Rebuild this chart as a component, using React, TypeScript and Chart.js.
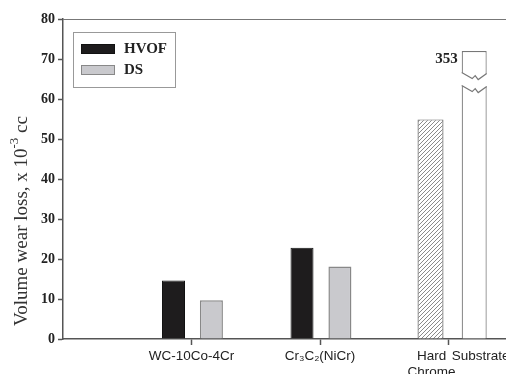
import React, { useEffect, useRef } from 'react';
import { Chart, registerables } from 'chart.js';

Chart.register(...registerables);

// ---- data ----
const categories = ['WC-10Co-4Cr', 'Cr\u2083C\u2082(NiCr)', 'Hard Chrome', 'Substrate'];
const seriesNames = ['HVOF', 'DS'];
const hvofValues = [14.6, 22.8];
const dsValues = [9.7, 18.1];
const hardChromeValue = 54.9;
const substrateActual = 353; // real value, shown with a broken bar
const substrateDrawn = 72; // height of the broken bar on the axis
const yTicks = [0, 10, 20, 30, 40, 50, 60, 70, 80];

// layout constants (category index positions on a linear axis)
const GROUP_OFFSET_LEFT = -0.14;
const GROUP_OFFSET_RIGHT = 0.155;

export default function App() {
  const ref = useRef<HTMLCanvasElement | null>(null);

  useEffect(() => {
    const canvas = ref.current;
    if (!canvas) return;

    // hatch pattern
    const pc = document.createElement('canvas');
    pc.width = 4;
    pc.height = 4;
    const p = pc.getContext('2d')!;
    p.fillStyle = '#ffffff';
    p.fillRect(0, 0, 4, 4);
    p.strokeStyle = '#8a8a8a';
    p.lineWidth = 1;
    p.beginPath();
    p.moveTo(-1, 5); p.lineTo(5, -1);
    p.moveTo(-1, 1); p.lineTo(1, -1);
    p.moveTo(3, 5); p.lineTo(5, 3);
    p.stroke();
    const hatch = canvas.getContext('2d')!.createPattern(pc, 'repeat');

    const xTickDefs = [
      { v: 1, label: categories[0], mark: true },
      { v: 2, label: categories[1], mark: true },
      { v: 2.868, label: categories[2].split(' '), mark: false },
      { v: 3, label: '', mark: true },
      { v: 3.25, label: categories[3], mark: false },
    ];

    const serif = "'Liberation Serif', 'Times New Roman', serif";
    const sans = "'Liberation Sans', Arial, sans-serif";

    const framePlugin = {
      id: 'frame',
      beforeDatasetsDraw(chart: any) {
        const { ctx, chartArea } = chart;
        ctx.save();
        ctx.strokeStyle = '#777';
        ctx.lineWidth = 1.2;
        ctx.beginPath();
        ctx.moveTo(chartArea.left, chartArea.top + 0.5);
        ctx.lineTo(chartArea.right, chartArea.top + 0.5);
        ctx.lineTo(chartArea.right, chartArea.bottom);
        ctx.stroke();
        ctx.restore();
      },
    };

    const extrasPlugin = {
      id: 'extras',
      afterDatasetsDraw(chart: any) {
        const { ctx } = chart;
        const yScale = chart.scales.y;
        // broken substrate bar
        const bar = chart.getDatasetMeta(3).data[0] as any;
        if (bar) {
          const L = bar.x - bar.width / 2;
          const R = bar.x + bar.width / 2;
          const cx = bar.x;
          const y0 = yScale.getPixelForValue(66.6);
          const y1 = y0 + 13;
          const zig = (y: number) => [
            [L, y], [cx - 2, y + 6], [cx + 1, y + 3], [cx + 4, y + 7], [R, y + 1],
          ];
          const top = zig(y0);
          const bot = zig(y1);
          ctx.save();
          ctx.fillStyle = '#ffffff';
          ctx.beginPath();
          ctx.moveTo(L - 3, top[0][1]);
          top.forEach((pt) => ctx.lineTo(pt[0], pt[1]));
          ctx.lineTo(R + 3, top[4][1]);
          ctx.lineTo(R + 3, bot[4][1]);
          [...bot].reverse().forEach((pt) => ctx.lineTo(pt[0], pt[1]));
          ctx.lineTo(L - 3, bot[0][1]);
          ctx.closePath();
          ctx.fill();
          ctx.strokeStyle = '#777';
          ctx.lineWidth = 1.2;
          [top, bot].forEach((pts) => {
            ctx.beginPath();
            pts.forEach((pt, i) => (i ? ctx.lineTo(pt[0], pt[1]) : ctx.moveTo(pt[0], pt[1])));
            ctx.stroke();
          });
          // value label
          ctx.fillStyle = '#222';
          ctx.font = `bold 15px ${serif}`;
          ctx.textAlign = 'right';
          ctx.textBaseline = 'middle';
          ctx.fillText(String(substrateActual), L - 4, yScale.getPixelForValue(70));
          ctx.restore();
        }

        // legend
        ctx.save();
        const lx = 73, ly = 32, lw = 102, lh = 55;
        ctx.strokeStyle = '#999';
        ctx.lineWidth = 1;
        ctx.strokeRect(lx + 0.5, ly + 0.5, lw, lh);
        const rows = [chart.data.datasets[0], chart.data.datasets[1]];
        rows.forEach((ds: any, i: number) => {
          const sy = 44 + i * 21;
          ctx.fillStyle = ds.backgroundColor;
          ctx.fillRect(81, sy, 34, 10);
          ctx.strokeStyle = ds.borderColor;
          ctx.lineWidth = 1;
          ctx.strokeRect(81.5, sy + 0.5, 33, 9);
          ctx.fillStyle = '#222';
          ctx.font = `bold 15px ${serif}`;
          ctx.textAlign = 'left';
          ctx.textBaseline = 'middle';
          ctx.fillText(ds.label, 124, sy + 5.5);
        });
        ctx.restore();

        // y title with superscript
        ctx.save();
        ctx.translate(22, 221);
        ctx.rotate(-Math.PI / 2);
        ctx.fillStyle = '#333';
        ctx.textBaseline = 'middle';
        ctx.textAlign = 'left';
        const mainFont = `19px ${serif}`;
        const supFont = `13px ${serif}`;
        const parts: [string, string, number][] = [
          ['Volume wear loss, x 10', mainFont, 0],
          ['-3', supFont, -7],
          [' cc', mainFont, 0],
        ];
        let total = 0;
        parts.forEach(([t, f]) => { ctx.font = f; total += ctx.measureText(t).width; });
        let x = -total / 2;
        parts.forEach(([t, f, dy]) => {
          ctx.font = f;
          ctx.fillText(t, x, dy);
          x += ctx.measureText(t).width;
        });
        ctx.restore();
      },
    };

    const chart = new Chart(canvas, {
      type: 'bar',
      data: {
        datasets: [
          {
            label: seriesNames[0],
            data: hvofValues.map((v, i) => ({ x: i + 1 + GROUP_OFFSET_LEFT, y: v })),
            backgroundColor: '#1e1c1d',
            borderColor: '#111',
            borderWidth: 1,
            maxBarThickness: 23,
          },
          {
            label: seriesNames[1],
            data: dsValues.map((v, i) => ({ x: i + 1 + GROUP_OFFSET_RIGHT, y: v })),
            backgroundColor: '#c9c9cd',
            borderColor: '#888',
            borderWidth: 1.5,
            maxBarThickness: 23,
          },
          {
            label: categories[2],
            data: [{ x: 3 + GROUP_OFFSET_LEFT, y: hardChromeValue }],
            backgroundColor: hatch as any,
            borderColor: '#666',
            borderWidth: 1.2,
            maxBarThickness: 26,
          },
          {
            label: categories[3],
            data: [{ x: 3.2, y: substrateDrawn }],
            backgroundColor: '#ffffff',
            borderColor: '#777',
            borderWidth: 1.2,
            maxBarThickness: 25,
          },
        ] as any,
      },
      options: {
        responsive: false,
        animation: false,
        devicePixelRatio: 1,
        layout: { padding: { left: 0, right: 43, top: 19, bottom: 0 } },
        datasets: { bar: { grouped: false, barPercentage: 4, categoryPercentage: 1 } } as any,
        plugins: { legend: { display: false }, tooltip: { enabled: false } },
        scales: {
          x: {
            type: 'linear',
            min: 0,
            max: 4,
            offset: false,
            afterFit(scale: any) { scale.height = 35; },
            afterBuildTicks(scale: any) {
              scale.ticks = xTickDefs.map((d) => ({ value: d.v }));
            },
            ticks: {
              autoSkip: false,
              maxRotation: 0,
              padding: 3,
              color: '#222',
              font: { family: sans, size: 13.5 },
              callback: (_v: any, i: number) => xTickDefs[i] ? xTickDefs[i].label : '',
            },
            grid: {
              offset: false,
              drawOnChartArea: false,
              drawTicks: true,
              tickLength: 6,
              tickWidth: 1.5,
              tickColor: (c: any) => (xTickDefs[c.index] && xTickDefs[c.index].mark ? '#555' : 'rgba(0,0,0,0)'),
            },
            border: { display: true, color: '#555', width: 1.5 },
          } as any,
          y: {
            type: 'linear',
            min: 0,
            max: 80,
            afterFit(scale: any) { scale.width = 63; },
            afterBuildTicks(scale: any) {
              scale.ticks = yTicks.map((v) => ({ value: v }));
            },
            ticks: {
              padding: 3,
              color: '#222',
              font: { family: serif, size: 14, weight: 'bold' },
            },
            grid: {
              drawOnChartArea: false,
              drawTicks: true,
              tickLength: 5,
              tickWidth: 1.5,
              tickColor: '#555',
            },
            border: { display: true, color: '#555', width: 1.5 },
          } as any,
        },
      },
      plugins: [framePlugin, extrasPlugin],
    });

    return () => chart.destroy();
  }, []);

  return (
    <div style={{ position: 'fixed', left: 0, top: 0, width: 506, height: 374, overflow: 'hidden', background: '#fff' }}>
      <canvas ref={ref} width={620} height={374} style={{ display: 'block' }} />
    </div>
  );
}
